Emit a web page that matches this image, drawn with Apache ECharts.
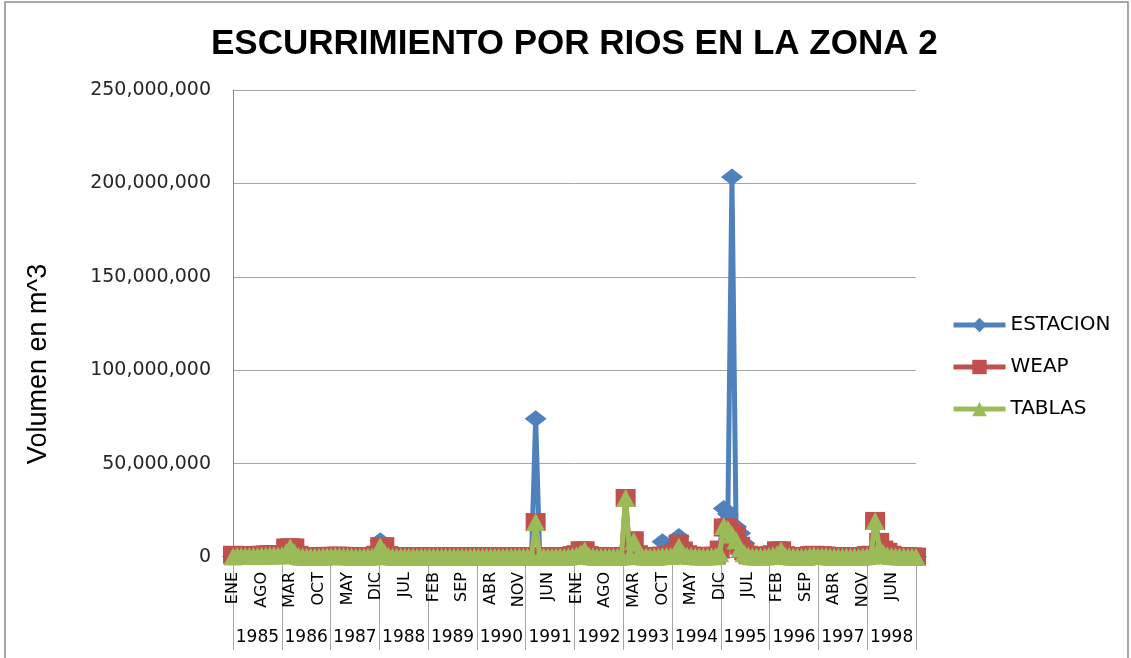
<!DOCTYPE html>
<html>
<head>
<meta charset="utf-8">
<script src="https://cdn.jsdelivr.net/npm/echarts@6/dist/echarts.min.js"></script>
<style>
  html, body { margin: 0; padding: 0; background: #ffffff; }
  #chart { width: 1131px; height: 658px; }
</style>
</head>
<body>
<div id="chart"></div>
<script>
// Years and month abbreviations of the monthly axis
const years = ['1985', '1986', '1987', '1988', '1989', '1990', '1991',
               '1992', '1993', '1994', '1995', '1996', '1997', '1998'];
const months = ['ENE', 'FEB', 'MAR', 'ABR', 'MAY', 'JUN', 'JUL', 'AGO', 'SEP', 'OCT', 'NOV', 'DIC'];

// Monthly runoff, millions of m^3, one row per year (ENE..DIC)
const estacion = [
  [0.3, 0.3, 0.3, 0.3, 0.3, 0.3, 0.4, 0.4, 0.5, 0.6, 0.6, 0.5],
  [0.8, 2.0, 5.8, 2.0, 0.5, 0.2, 0.2, 0.2, 0.2, 0.2, 0.2, 0.3],
  [0.3, 0.4, 0.4, 0.3, 0.3, 0.2, 0.2, 0.2, 0.2, 0.2, 0.3, 1.0],
  [8.7, 1.5, 0.3, 0.2, 0.2, 0.2, 0.2, 0.2, 0.2, 0.2, 0.2, 0.2],
  [0.2, 0.2, 0.2, 0.2, 0.2, 0.2, 0.2, 0.2, 0.2, 0.2, 0.2, 0.2],
  [0.2, 0.2, 0.2, 0.2, 0.2, 0.2, 0.2, 0.2, 0.2, 0.2, 0.2, 0.2],
  [0.2, 0.3, 74.0, 0.3, 0.2, 0.2, 0.2, 0.2, 0.2, 0.2, 0.3, 0.5],
  [0.6, 0.8, 0.8, 0.4, 0.3, 0.2, 0.2, 0.2, 0.2, 0.2, 0.2, 0.3],
  [0.4, 0.4, 0.6, 0.4, 0.3, 0.2, 0.2, 0.2, 0.3, 8.2, 1.0, 0.8],
  [1.5, 11.0, 2.0, 0.8, 0.4, 0.3, 0.2, 0.2, 0.2, 0.3, 0.5, 3.0],
  [26.0, 23.0, 203.4, 16.2, 12.7, 7.3, 2.0, 0.6, 0.3, 0.3, 0.4, 0.6],
  [0.6, 0.8, 0.8, 0.5, 0.4, 0.3, 0.2, 0.2, 0.2, 0.3, 0.4, 0.5],
  [0.4, 0.3, 0.3, 0.2, 0.2, 0.2, 0.2, 0.2, 0.2, 0.2, 0.3, 0.5],
  [0.5, 0.8, 0.6, 0.4, 0.3, 0.3, 0.2, 0.2, 0.2, 0.2, 0.2, 0.2]
];
const weap = [
  [1.2, 1.0, 0.9, 0.9, 0.9, 1.0, 1.0, 1.2, 1.4, 1.6, 1.6, 1.4],
  [1.6, 5.1, 5.2, 5.1, 1.2, 0.4, 0.3, 0.3, 0.3, 0.3, 0.4, 0.6],
  [0.6, 0.7, 0.7, 0.6, 0.5, 0.4, 0.3, 0.3, 0.3, 0.4, 0.5, 1.2],
  [5.8, 5.8, 1.0, 0.4, 0.3, 0.3, 0.3, 0.3, 0.3, 0.3, 0.3, 0.3],
  [0.3, 0.3, 0.3, 0.3, 0.3, 0.3, 0.3, 0.3, 0.3, 0.3, 0.3, 0.3],
  [0.3, 0.3, 0.3, 0.3, 0.3, 0.3, 0.3, 0.3, 0.3, 0.3, 0.3, 0.3],
  [0.3, 0.4, 18.7, 0.5, 0.4, 0.3, 0.3, 0.3, 0.3, 0.3, 0.5, 1.0],
  [1.5, 3.6, 3.6, 1.0, 0.5, 0.3, 0.3, 0.3, 0.3, 0.3, 0.3, 0.5],
  [31.6, 1.0, 9.0, 1.5, 0.6, 0.4, 0.3, 0.3, 0.5, 0.8, 0.8, 1.0],
  [2.5, 7.2, 3.5, 1.5, 0.8, 0.6, 0.5, 0.5, 0.5, 0.6, 0.8, 4.0],
  [15.8, 15.8, 13.0, 11.5, 6.0, 3.0, 1.2, 0.6, 0.4, 0.4, 0.5, 1.0],
  [1.5, 3.6, 3.6, 1.0, 0.5, 0.4, 0.3, 0.3, 0.3, 1.0, 1.2, 1.0],
  [1.0, 0.8, 0.4, 0.3, 0.3, 0.3, 0.3, 0.3, 0.3, 0.3, 0.5, 1.0],
  [1.2, 19.3, 8.1, 4.0, 2.8, 1.2, 0.6, 0.5, 0.4, 0.4, 0.3, 0.2]
];
const tablas = [
  [0.3, 0.5, 0.5, 0.5, 0.5, 0.6, 0.6, 0.7, 0.8, 0.9, 0.9, 0.8],
  [1.0, 2.5, 5.2, 2.5, 0.6, 0.3, 0.2, 0.2, 0.2, 0.2, 0.3, 0.4],
  [0.4, 0.5, 0.5, 0.4, 0.3, 0.3, 0.2, 0.2, 0.2, 0.3, 0.3, 0.8],
  [5.7, 2.5, 0.5, 0.3, 0.2, 0.2, 0.2, 0.2, 0.2, 0.2, 0.2, 0.2],
  [0.2, 0.2, 0.2, 0.2, 0.2, 0.2, 0.2, 0.2, 0.2, 0.2, 0.2, 0.2],
  [0.2, 0.2, 0.2, 0.2, 0.2, 0.2, 0.2, 0.2, 0.2, 0.2, 0.2, 0.2],
  [0.2, 0.3, 18.7, 0.3, 0.2, 0.2, 0.2, 0.2, 0.2, 0.2, 0.3, 0.6],
  [1.0, 2.0, 3.6, 0.8, 0.4, 0.2, 0.2, 0.2, 0.2, 0.2, 0.2, 0.3],
  [31.6, 0.8, 8.5, 1.0, 0.4, 0.3, 0.2, 0.2, 0.3, 0.5, 0.5, 0.6],
  [1.5, 5.5, 2.0, 0.8, 0.5, 0.4, 0.3, 0.3, 0.3, 0.4, 0.5, 2.0],
  [16.6, 15.0, 12.0, 9.0, 4.5, 2.0, 0.8, 0.4, 0.3, 0.3, 0.3, 0.6],
  [1.0, 1.5, 3.6, 0.8, 0.4, 0.3, 0.2, 0.2, 0.2, 0.5, 0.8, 0.6],
  [0.6, 0.5, 0.3, 0.2, 0.2, 0.2, 0.2, 0.2, 0.2, 0.2, 0.3, 0.6],
  [0.8, 19.3, 5.0, 2.0, 1.0, 0.6, 0.4, 0.3, 0.3, 0.2, 0.2, 0.1]
];

// Value axis ticks (m^3)
const yMin = 0;
const yMax = 250000000;
const yStep = 50000000;

const seriesNames = ['ESTACION', 'WEAP', 'TABLAS'];
const seriesColors = ['#4F81BD', '#C0504D', '#9BBB59'];
const seriesSymbols = ['diamond', 'rect', 'triangle'];
const seriesSymbolSizes = [[22, 17], [20, 18], [19, 18]];

// One category per month, keyed by year so every slot is unique
const monthKeys = [];
years.forEach(y => months.forEach(m => monthKeys.push(m + ' ' + y)));

const toM3 = rows => rows.flat().map(v => v * 1e6);
const seriesValues = [toM3(estacion), toM3(weap), toM3(tablas)];

const withCommas = v => String(v).replace(/\B(?=(\d{3})+(?!\d))/g, ',');

const plot = { left: 233, right: 215, top: 90, bottom: 101 };

const chart = echarts.init(document.getElementById('chart'), null, { renderer: 'canvas' });

chart.setOption({
  backgroundColor: '#ffffff',
  animation: false,
  title: {
    text: 'ESCURRIMIENTO POR RIOS EN LA ZONA 2',
    left: 211,
    top: 27,
    padding: 0,
    textStyle: {
      fontFamily: 'Liberation Sans',
      fontWeight: 'bold',
      fontSize: 35,
      color: '#000000'
    }
  },
  legend: {
    data: seriesNames,
    orient: 'vertical',
    left: 946,
    top: 310,
    itemWidth: 52,
    itemHeight: 18,
    itemGap: 22,
    lineStyle: { width: 5 },
    textStyle: { fontFamily: 'DejaVu Sans', fontSize: 20, color: '#000000' }
  },
  grid: [
    Object.assign({ outerBoundsMode: 'none', containLabel: false }, plot),
    Object.assign({ outerBoundsMode: 'none', containLabel: false }, plot)
  ],
  xAxis: [
    {
      type: 'category',
      gridIndex: 0,
      data: monthKeys,
      boundaryGap: false,
      axisLine: { show: true, lineStyle: { color: '#868686', width: 1 } },
      axisTick: { show: false },
      splitLine: { show: false },
      axisLabel: {
        interval: 6,
        rotate: 90,
        margin: 15,
        fontFamily: 'DejaVu Sans',
        fontSize: 16,
        color: '#000000',
        formatter: v => v.split(' ')[0]
      }
    },
    {
      type: 'category',
      gridIndex: 1,
      data: years,
      boundaryGap: true,
      position: 'bottom',
      axisLine: { show: false, onZero: false },
      axisTick: { show: true, interval: 0, length: 93, lineStyle: { color: '#a6a6a6', width: 1 } },
      splitLine: { show: false },
      axisLabel: {
        interval: 0,
        margin: 72,
        fontFamily: 'DejaVu Sans',
        fontSize: 17,
        color: '#000000'
      }
    }
  ],
  yAxis: [
    {
      type: 'value',
      gridIndex: 0,
      min: yMin,
      max: yMax,
      interval: yStep,
      axisLine: { show: true, lineStyle: { color: '#868686', width: 1 } },
      axisTick: { show: false },
      splitLine: { show: true, lineStyle: { color: '#a6a6a6', width: 1 } },
      axisLabel: {
        margin: 22,
        fontFamily: 'DejaVu Sans',
        fontSize: 19,
        color: '#262626',
        formatter: withCommas
      }
    },
    {
      type: 'value',
      gridIndex: 1,
      min: 0,
      max: 1,
      show: false
    }
  ],
  series: seriesNames.map((name, k) => ({
    name: name,
    type: 'line',
    xAxisIndex: 0,
    yAxisIndex: 0,
    data: seriesValues[k],
    symbol: seriesSymbols[k],
    symbolSize: seriesSymbolSizes[k],
    showAllSymbol: true,
    z: 2 + k,
    lineStyle: { color: seriesColors[k], width: 5 },
    itemStyle: { color: seriesColors[k], borderWidth: 0 },
    emphasis: { disabled: true }
  })),
  graphic: [
    {
      // value axis title, centred beside the plot
      type: 'text',
      silent: true,
      x: 39,
      y: 364,
      rotation: Math.PI / 2,
      style: {
        text: 'Volumen en m^3',
        fontFamily: 'Liberation Sans',
        fontSize: 27,
        fill: '#000000',
        textAlign: 'center',
        textVerticalAlign: 'middle'
      }
    },
    {
      type: 'rect',
      silent: true,
      z: 100,
      shape: { x: 5, y: 2, width: 1123, height: 700 },
      style: { fill: 'none', stroke: '#8c8c8c', lineWidth: 1.5 }
    }
  ]
});
</script>
</body>
</html>
